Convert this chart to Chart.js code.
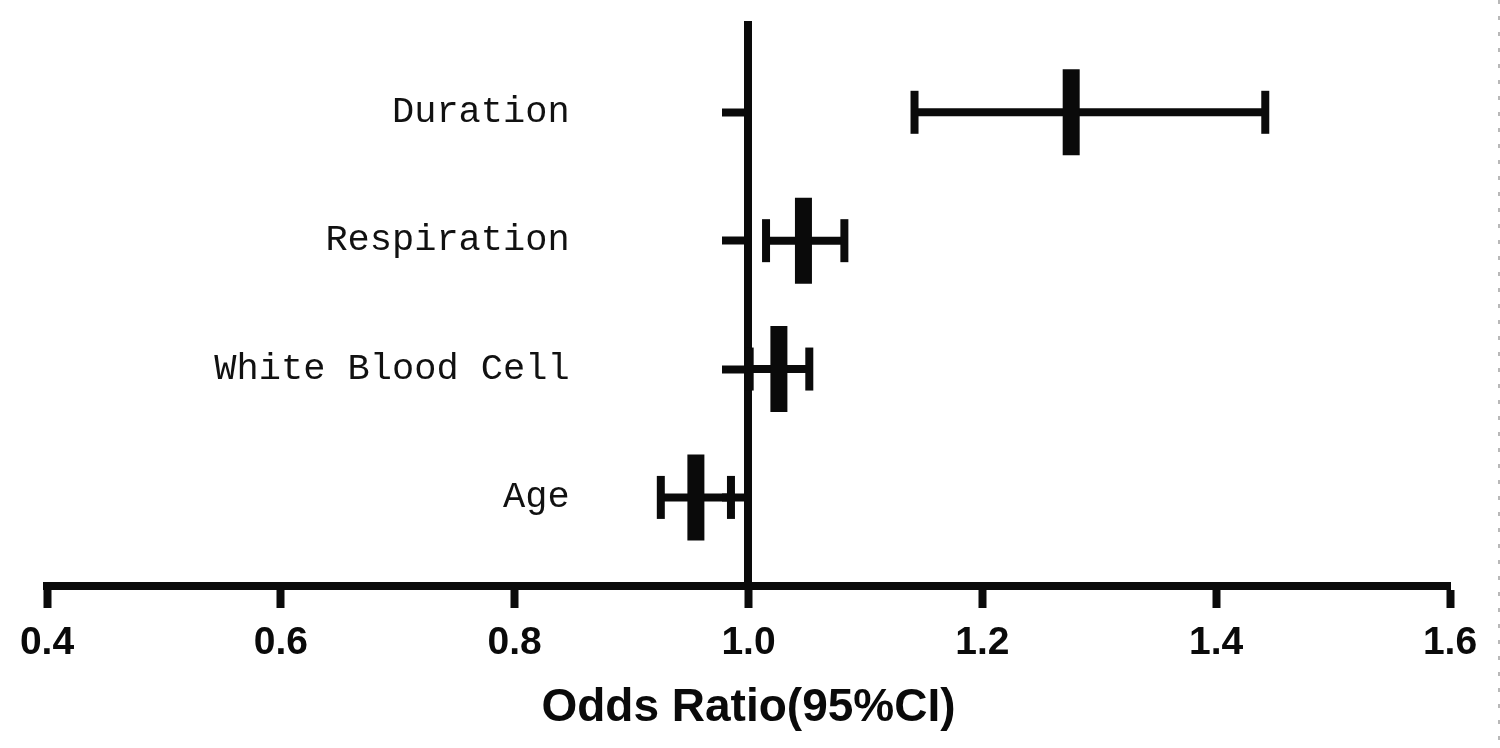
<!DOCTYPE html>
<html>
<head>
<meta charset="utf-8">
<script src="https://cdn.jsdelivr.net/npm/chart.js@4/dist/chart.umd.min.js"></script>
<style>
  html, body { margin: 0; padding: 0; background: #fff; }
  #wrap { position: relative; width: 1500px; height: 748px; }
  #edge {
    position: absolute; left: 1498px; top: 0; width: 2px; height: 748px;
    background: repeating-linear-gradient(to bottom, #b8b8b8 0 4px, transparent 4px 16px);
  }
</style>
</head>
<body>
<div id="wrap">
  <canvas id="chart" width="1500" height="748"></canvas>
  <div id="edge"></div>
</div>
<script>
// rows from bottom to top
const categories = ['Age', 'White Blood Cell', 'Respiration', 'Duration'];
const rowPos = [1, 2, 3, 4];
const oddsRatio = [0.955, 1.026, 1.047, 1.276];
const ciLower = [0.925, 1.001, 1.015, 1.142];
const ciUpper = [0.985, 1.052, 1.082, 1.442];
const xTicks = [0.4, 0.6, 0.8, 1.0, 1.2, 1.4, 1.6];

const refLine = 1.0;      // the y axis crosses here
const labelAnchor = 0.847; // right edge of the row names, in x units

const black = '#0a0a0a';

// one line per confidence interval, caps drawn as rotated 'line' points
const ciSets = categories.map((name, i) => ({
    label: name + ' CI',
    data: [{ x: ciLower[i], y: rowPos[i] }, { x: ciUpper[i], y: rowPos[i] }],
    showLine: true,
    borderColor: black,
    borderWidth: 8,
    pointStyle: 'line',
    pointRotation: 90,
    pointRadius: 21.5,
    pointHoverRadius: 21.5,
    pointBorderWidth: 8,
    pointBorderColor: black,
    clip: false,
    order: 2
}));

const orSet = {
    label: 'Odds Ratio',
    data: categories.map((name, i) => ({ x: oddsRatio[i], y: rowPos[i] })),
    showLine: false,
    pointStyle: 'line',
    pointRotation: 90,
    pointRadius: 43,
    pointHoverRadius: 43,
    pointBorderWidth: 17,
    pointBorderColor: black,
    clip: false,
    order: 1
};

const yRange = { min: 0.31, max: 4.68 };
const setRowTicks = scale => { scale.ticks = rowPos.map(v => ({ value: v })); };

new Chart(document.getElementById('chart').getContext('2d'), {
    type: 'scatter',
    data: { datasets: [...ciSets, orSet] },
    options: {
        responsive: false,
        animation: false,
        devicePixelRatio: 1,
        layout: {
            autoPadding: false,
            padding: { top: 25, left: 47, right: 50, bottom: 12 }
        },
        plugins: {
            legend: { display: false },
            tooltip: { enabled: false }
        },
        scales: {
            x: {
                type: 'linear',
                position: 'bottom',
                min: 0.4,
                max: 1.6,
                afterBuildTicks: scale => { scale.ticks = xTicks.map(v => ({ value: v })); },
                ticks: {
                    callback: v => v.toFixed(1),
                    color: black,
                    font: { family: '"Liberation Sans", Arial, sans-serif', size: 39, weight: 'bold' },
                    padding: 12,
                    maxRotation: 0
                },
                grid: {
                    drawOnChartArea: false,
                    drawTicks: true,
                    tickLength: 22,
                    tickWidth: 8,
                    tickColor: black
                },
                border: { display: true, width: 8, color: black },
                title: {
                    display: true,
                    text: 'Odds Ratio(95%CI)',
                    color: black,
                    font: { family: '"Liberation Sans", Arial, sans-serif', size: 46, weight: 'bold' },
                    padding: { top: 2, bottom: 0 }
                }
            },
            // the axis line and its tick stubs, standing at x = 1.0
            y: {
                type: 'linear',
                position: { x: refLine },
                min: yRange.min,
                max: yRange.max,
                afterBuildTicks: setRowTicks,
                ticks: { display: false },
                grid: {
                    drawOnChartArea: false,
                    drawTicks: true,
                    tickLength: 22,
                    tickWidth: 8,
                    tickColor: black
                },
                border: { display: true, width: 8, color: black }
            },
            // the row names
            yNames: {
                type: 'linear',
                axis: 'y',
                position: { x: labelAnchor },
                min: yRange.min,
                max: yRange.max,
                afterBuildTicks: setRowTicks,
                ticks: {
                    callback: v => categories[rowPos.indexOf(v)],
                    color: '#111',
                    font: { family: '"Liberation Mono", "DejaVu Sans Mono", monospace', size: 37 },
                    padding: 0
                },
                grid: { display: false },
                border: { display: false }
            }
        }
    }
});
</script>
</body>
</html>
